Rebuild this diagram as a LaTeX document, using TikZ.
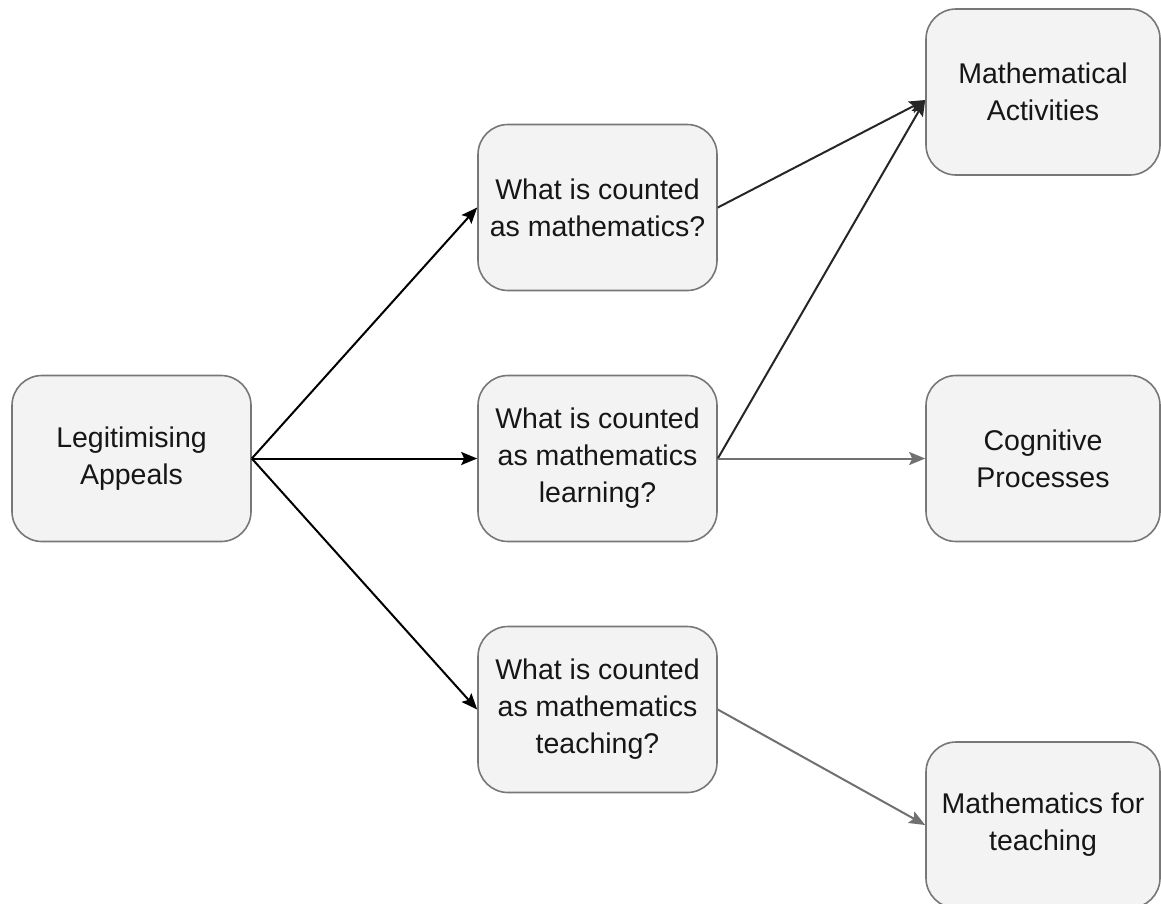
\documentclass[tikz,border=0pt]{standalone}
\usepackage{fontspec}
\setmainfont{Liberation Sans}
\usetikzlibrary{arrows.meta,calc}
\definecolor{boxfill}{HTML}{F3F3F3}
\definecolor{boxline}{HTML}{777777}
\definecolor{txt}{HTML}{161616}
\definecolor{arrdark}{HTML}{262626}
\definecolor{arrgray}{HTML}{707070}
\begin{document}
\begin{tikzpicture}[x=1pt,y=-1pt,
  box/.style={draw=boxline, line width=1.6pt, fill=boxfill, rounded corners=30pt,
    minimum width=239pt, minimum height=166pt, inner sep=0pt, align=center,
    text=txt, font=\fontsize{28.5}{37}\selectfont},
  rbox/.style={box, minimum width=234pt},
  conn/.style={line width=2pt, -{Stealth[length=16pt,width=13pt,inset=3pt]}},
]
\path[use as bounding box] (0,0) rectangle (1161,903);
\clip (0,0) rectangle (1161,903);

\node[box] (legit) at (131.5,458.5) {Legitimising\\Appeals};
\node[box] (q1) at (597.5,207.5) {What is counted\\as mathematics?};
\node[box] (q2) at (597.5,458.5) {What is counted\\as mathematics\\learning?};
\node[box] (q3) at (597.5,709.5) {What is counted\\as mathematics\\teaching?};
\node[rbox] (ma) at (1043,92) {Mathematical\\Activities};
\node[rbox] (cog) at (1043,458.5) {Cognitive\\Processes};
\node[rbox] (mft) at (1043,825) {Mathematics for\\teaching};

\draw[conn, black] (legit.east) -- (q1.west);
\draw[conn, black] (legit.east) -- (q2.west);
\draw[conn, black] (legit.east) -- (q3.west);
\draw[conn, arrdark] (q1.east) -- ($(ma.west)+(0,8)$);
\draw[conn, arrdark] (q2.east) -- ($(ma.west)+(0,8)$);
\draw[conn, arrgray] (q2.east) -- (cog.west);
\draw[conn, arrgray] (q3.east) -- (mft.west);
\end{tikzpicture}
\end{document}
